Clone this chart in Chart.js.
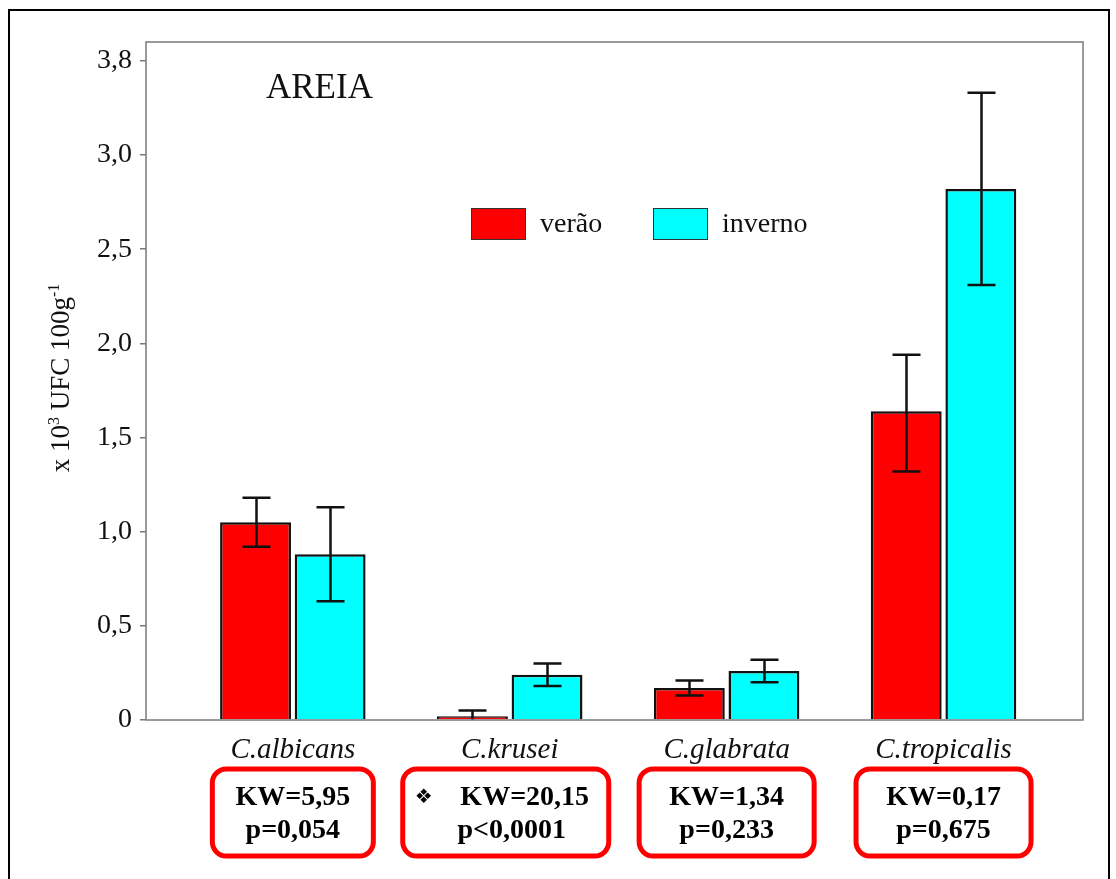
<!DOCTYPE html>
<html>
<head>
<meta charset="UTF-8">
<title>Areia - leveduras</title>
<style>
    body {
        margin: 0;
        background: #fff;
    }
    #chartContainer {
        width: 1116px;
        height: 879px;
    }
</style>
<script src="https://cdn.jsdelivr.net/npm/chart.js"></script>
</head>
<body>

<div id="chartContainer">
    <canvas id="areiaChart" width="1116" height="879"></canvas>
</div>

<script>
const species = ['C.albicans', 'C.krusei', 'C.glabrata', 'C.tropicalis'];
const verao = [1.05, 0.02, 0.17, 1.64];
const veraoHigh = [1.18, 0.05, 0.21, 1.94];
const veraoLow = [0.92, 0, 0.13, 1.32];
const inverno = [0.88, 0.24, 0.26, 2.82];
const invernoHigh = [1.13, 0.30, 0.32, 3.33];
const invernoLow = [0.63, 0.18, 0.20, 2.31];
const yTicks = [0, 0.5, 1, 1.5, 2, 2.5, 3, 3.5];
const yTickLabels = ['0', '0,5', '1,0', '1,5', '2,0', '2,5', '3,0', '3,8'];
const kwValues = ['KW=5,95', 'KW=20,15', 'KW=1,34', 'KW=0,17'];
const pValues = ['p=0,054', 'p<0,0001', 'p=0,233', 'p=0,675'];
const kwMarked = [false, true, false, false];

const serif = "'Liberation Serif', 'Times New Roman', serif";

// whiskers on top of every bar
const errorBars = {
    id: 'errorBars',
    afterDatasetsDraw(chart) {
        const ctx = chart.ctx;
        const y = chart.scales.y;
        ctx.save();
        ctx.strokeStyle = '#111';
        ctx.lineWidth = 2.5;
        chart.data.datasets.forEach((ds, di) => {
            chart.getDatasetMeta(di).data.forEach((bar, i) => {
                const top = y.getPixelForValue(ds.errHigh[i]);
                const bottom = y.getPixelForValue(ds.errLow[i]);
                const x = Math.round(bar.x) + 0.5;
                ctx.beginPath();
                ctx.moveTo(x, top);
                ctx.lineTo(x, bottom);
                ctx.moveTo(x - 14, top);
                ctx.lineTo(x + 14, top);
                if (ds.errLow[i] > 0) {
                    ctx.moveTo(x - 14, bottom);
                    ctx.lineTo(x + 14, bottom);
                }
                ctx.stroke();
            });
        });
        ctx.restore();
    }
};

// box around the plot, legend, titles and the KW boxes under the axis
const decorations = {
    id: 'decorations',
    afterDraw(chart) {
        const ctx = chart.ctx;
        const area = chart.chartArea;
        const xs = chart.scales.x;
        ctx.save();

        ctx.strokeStyle = '#000';
        ctx.lineWidth = 2;
        ctx.strokeRect(9, 10, 1100, 880);

        ctx.strokeStyle = '#7a7a7a';
        ctx.lineWidth = 1.5;
        ctx.strokeRect(area.left, area.top, area.right - area.left, area.bottom - area.top);

        ctx.fillStyle = '#111';
        ctx.font = '35px ' + serif;
        ctx.textBaseline = 'alphabetic';
        ctx.textAlign = 'left';
        ctx.fillText('AREIA', 266, 98);

        // legend
        const legendX = [471, 653];
        ctx.font = '28px ' + serif;
        chart.data.datasets.forEach((ds, di) => {
            ctx.fillStyle = ds.backgroundColor;
            ctx.fillRect(legendX[di], 208, 54, 31);
            ctx.strokeStyle = '#333';
            ctx.lineWidth = 1;
            ctx.strokeRect(legendX[di] + 0.5, 208.5, 54, 31);
            ctx.fillStyle = '#111';
            ctx.fillText(ds.label, legendX[di] + 69, 232);
        });

        // y axis title: x 10^3 UFC 100g^-1
        ctx.translate(69, 378);
        ctx.rotate(-Math.PI / 2);
        const parts = [
            ['x 10', 27, 0],
            ['3', 16, -10],
            [' UFC 100g', 27, 0],
            ['-1', 16, -10]
        ];
        let total = 0;
        parts.forEach(p => {
            ctx.font = p[1] + 'px ' + serif;
            total += ctx.measureText(p[0]).width;
        });
        let cx = -total / 2;
        parts.forEach(p => {
            ctx.font = p[1] + 'px ' + serif;
            ctx.fillText(p[0], cx, p[2]);
            cx += ctx.measureText(p[0]).width;
        });
        ctx.setTransform(1, 0, 0, 1, 0, 0);

        // Kruskal-Wallis boxes
        const boxW = [161, 206, 175, 175];
        species.forEach((s, i) => {
            const c = xs.getPixelForValue(i) - (kwMarked[i] ? 4 : 0);
            const left = c - boxW[i] / 2;
            ctx.strokeStyle = '#ff0000';
            ctx.lineWidth = 5;
            ctx.beginPath();
            ctx.roundRect(left, 769, boxW[i], 87, 14);
            ctx.stroke();

            ctx.fillStyle = '#000';
            ctx.textAlign = 'center';
            ctx.font = 'bold 28px ' + serif;
            if (kwMarked[i]) {
                ctx.fillText(kwValues[i], c + 19, 805);
                ctx.fillText(pValues[i], c + 6, 838);
                ctx.font = "20px 'DejaVu Sans', sans-serif";
                ctx.fillText('\u2756', left + 21, 803);
            } else {
                ctx.fillText(kwValues[i], c, 805);
                ctx.fillText(pValues[i], c, 838);
            }
        });
        ctx.restore();
    }
};

const ctx = document.getElementById('areiaChart').getContext('2d');

const chart = new Chart(ctx, {
    type: 'bar',
    data: {
        datasets: [{
            label: 'verão',
            data: verao.map((v, i) => ({ x: i, y: v })),
            errHigh: veraoHigh,
            errLow: veraoLow,
            backgroundColor: '#ff0000',
            borderColor: '#111',
            borderWidth: 2.5
        }, {
            label: 'inverno',
            data: inverno.map((v, i) => ({ x: i, y: v })),
            errHigh: invernoHigh,
            errLow: invernoLow,
            backgroundColor: '#00ffff',
            borderColor: '#111',
            borderWidth: 2.5
        }]
    },
    options: {
        responsive: false,
        animation: false,
        categoryPercentage: 0.688,
        barPercentage: 0.95,
        layout: {
            padding: { top: 42, right: 33, left: 0, bottom: 0 }
        },
        plugins: {
            legend: { display: false },
            tooltip: { enabled: false }
        },
        scales: {
            x: {
                type: 'linear',
                offset: false,
                min: -0.677,
                max: 3.643,
                afterBuildTicks: s => { s.ticks = species.map((_, i) => ({ value: i })); },
                afterFit: s => { s.height = 879 - 720; },
                grid: { display: false, offset: false },
                border: { display: false },
                ticks: {
                    padding: 5,
                    color: '#111',
                    font: { family: serif, size: 29, style: 'italic' },
                    callback: v => species[v]
                }
            },
            y: {
                min: 0,
                max: 3.6,
                afterBuildTicks: s => { s.ticks = yTicks.map(v => ({ value: v })); },
                afterFit: s => { s.width = 146; },
                grid: {
                    drawOnChartArea: false,
                    tickLength: 6,
                    color: '#7a7a7a',
                    lineWidth: 1.5
                },
                border: { display: false },
                ticks: {
                    padding: 8,
                    color: '#111',
                    font: { family: serif, size: 28 },
                    callback: v => yTickLabels[yTicks.indexOf(v)]
                }
            }
        }
    },
    plugins: [errorBars, decorations]
});
</script>

</body>
</html>
